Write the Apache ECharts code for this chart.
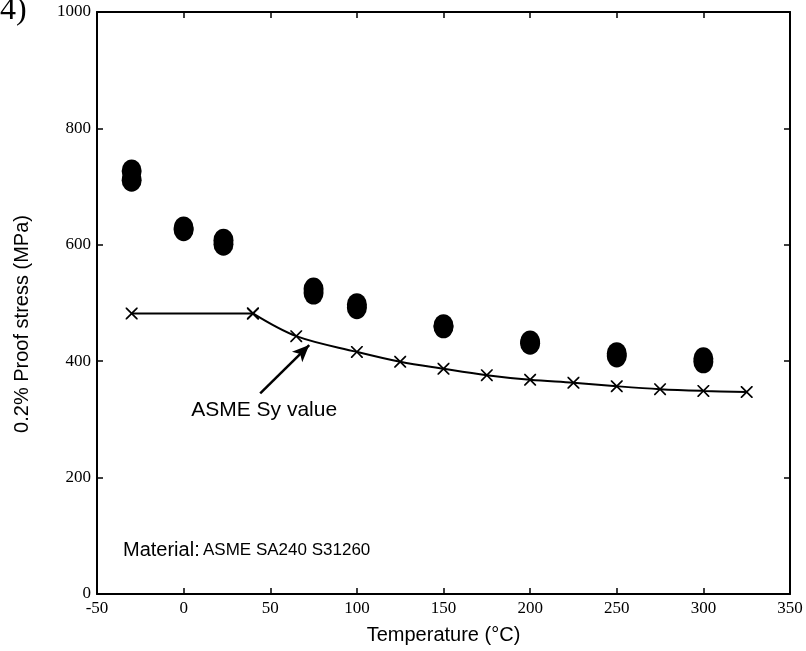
<!DOCTYPE html>
<html>
<head>
<meta charset="utf-8">
<script src="https://cdn.jsdelivr.net/npm/echarts@6/dist/echarts.min.js"></script>
<style>html,body{margin:0;padding:0;background:#fff}#c{width:806px;height:651px}</style>
</head>
<body>
<div id="c"></div>
<script>
// Measured proof stress (two specimens per temperature)
var testTemps = [-30, -30, 0, 0, 23, 23, 75, 75, 100, 100, 150, 150, 200, 200, 250, 250, 300, 300];
var testStress = [727, 711, 629, 626, 608, 601, 524, 517, 497, 492, 461, 459, 433, 431, 413, 409, 404, 399];
// ASME Sy values
var asmeTemps = [-30, 40, 65, 100, 125, 150, 175, 200, 225, 250, 275, 300, 325];
var asmeSy = [482, 482, 443, 416, 399, 387, 376, 368, 363, 357, 352, 349, 347];
// axis ticks
var xTicks = [-50, 0, 50, 100, 150, 200, 250, 300, 350];
var yTicks = [0, 200, 400, 600, 800, 1000];
// annotation (data coordinates)
var arrowFrom = [44.2, 344.8];
var arrowTo = [72.5, 427.8];
var arrowLabelAt = [46.5, 316];
var arrowLabel = 'ASME Sy value';
var materialText = 'ASME SA240 S31260';

var crossPath = 'path://M0,0 L1,0 L5,4 L9,0 L10,0 L10,1 L6,5 L10,9 L10,10 L9,10 L5,6 L1,10 L0,10 L0,9 L4,5 L0,1 Z';

function pairs(xs, ys) { return xs.map(function (x, i) { return [x, ys[i]]; }); }
var asmePts = pairs(asmeTemps, asmeSy);

var chart = echarts.init(document.getElementById('c'), null, {renderer: 'canvas'});
var serif = 'Liberation Serif';
var sans = 'Liberation Sans';
var axisLine = {show: true, onZero: false, lineStyle: {color: '#000', width: 2}};
var tick = {show: true, inside: true, length: 6, lineStyle: {color: '#000', width: 1.5}};
var xMin = xTicks[0], xMax = xTicks[xTicks.length - 1];
var yMin = yTicks[0], yMax = yTicks[yTicks.length - 1];
var plain = function (v) { return String(v); };

chart.setOption({
  animation: false,
  backgroundColor: '#fff',
  grid: {left: 97, right: 16, top: 12, bottom: 57, containLabel: false},
  xAxis: [{
    type: 'value', min: xMin, max: xMax, interval: 50, position: 'bottom',
    axisLine: axisLine, axisTick: tick, splitLine: {show: false},
    axisLabel: {color: '#000', fontFamily: serif, fontSize: 17, margin: 6, formatter: plain},
    name: 'Temperature (\u00B0C)', nameLocation: 'middle', nameGap: 31,
    nameTextStyle: {color: '#000', fontFamily: sans, fontSize: 20}
  }, {
    type: 'value', min: xMin, max: xMax, interval: 50, position: 'top',
    axisLine: axisLine, axisTick: tick, splitLine: {show: false}, axisLabel: {show: false}
  }],
  yAxis: [{
    type: 'value', min: yMin, max: yMax, interval: 200, position: 'left',
    axisLine: axisLine, axisTick: tick, splitLine: {show: false},
    axisLabel: {color: '#000', fontFamily: serif, fontSize: 17, margin: 6, formatter: plain}
  }, {
    type: 'value', min: yMin, max: yMax, interval: 200, position: 'right',
    axisLine: axisLine, axisTick: tick, splitLine: {show: false}, axisLabel: {show: false}
  }],
  graphic: [
    {type: 'text', left: 0, top: -5, style: {text: '4)', fontFamily: serif, fontSize: 32, fill: '#000'}},
    {type: 'text', x: 22, y: 324, rotation: Math.PI / 2, style: {text: '0.2% Proof stress (MPa)', fontFamily: sans, fontSize: 20, fill: '#000', align: 'center', verticalAlign: 'middle'}},
    {type: 'text', left: 123, top: 540, style: {
      text: '{a|Material:} {b|' + materialText + '}',
      rich: {a: {fontFamily: sans, fontSize: 20, fill: '#000'}, b: {fontFamily: sans, fontSize: 17, fill: '#000'}},
      fill: '#000'
    }}
  ],
  series: [
    {
      type: 'scatter', data: pairs(testTemps, testStress), symbol: 'circle', symbolSize: [20, 23],
      itemStyle: {color: '#000', opacity: 1}, z: 3
    },
    {
      type: 'line', data: asmePts.slice(0, 2), smooth: false, symbol: crossPath, symbolSize: 12,
      showSymbol: true, lineStyle: {color: '#000', width: 2}, itemStyle: {color: '#000'}, z: 2
    },
    {
      type: 'line', data: asmePts.slice(1), smooth: 0.35, symbol: crossPath, symbolSize: 12,
      showSymbol: true, lineStyle: {color: '#000', width: 2}, itemStyle: {color: '#000'}, z: 2,
      markLine: {
        silent: true, symbol: ['none', 'arrow'], symbolSize: [11, 17],
        lineStyle: {color: '#000', width: 2.5, type: 'solid'}, label: {show: false},
        data: [[{coord: arrowFrom}, {coord: arrowTo}]]
      }
    },
    {
      type: 'scatter', data: [arrowLabelAt], symbolSize: 0, silent: true,
      itemStyle: {opacity: 1},
      label: {show: true, position: 'inside', formatter: arrowLabel, color: '#000', fontFamily: sans, fontSize: 21}
    }
  ]
});
</script>
</body>
</html>
